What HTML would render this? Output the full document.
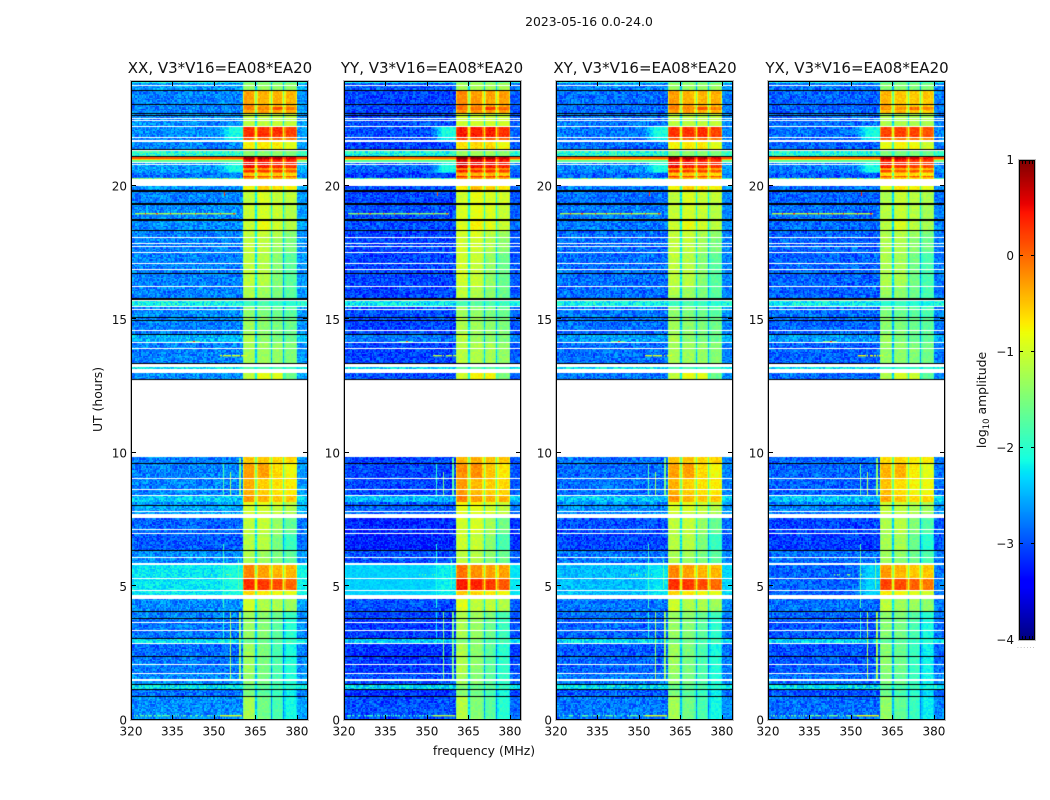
<!DOCTYPE html>
<html>
<head>
<meta charset="utf-8">
<title>2023-05-16 0.0-24.0</title>
<style>
html,body{margin:0;padding:0;background:#fff;width:1050px;height:800px;overflow:hidden}
#figure{position:relative;width:1050px;height:800px}
#figure canvas{position:absolute;display:block}
#overlay{position:absolute;left:0;top:0}
text{font-family:"DejaVu Sans","Liberation Sans",sans-serif;fill:#111}
</style>
</head>
<body>
<div id="figure">
<svg id="overlay" width="1050" height="800">
  <text x="589" y="26" font-size="12.4" text-anchor="middle">2023-05-16 0.0-24.0</text>
  <text x="220" y="73" font-size="15" text-anchor="middle">XX, V3*V16=EA08*EA20</text>
  <text x="432" y="73" font-size="15" text-anchor="middle">YY, V3*V16=EA08*EA20</text>
  <text x="645" y="73" font-size="15" text-anchor="middle">XY, V3*V16=EA08*EA20</text>
  <text x="857" y="73" font-size="15" text-anchor="middle">YX, V3*V16=EA08*EA20</text>
  <text x="484" y="755" font-size="12.4" text-anchor="middle">frequency (MHz)</text>
  <text transform="translate(102,399.5) rotate(-90)" font-size="12.4" text-anchor="middle">UT (hours)</text>
  <text transform="translate(986,400) rotate(-90)" font-size="12.4" text-anchor="middle">log<tspan font-size="8.5" dy="3">10</tspan><tspan dy="-3"> amplitude</tspan></text>
  <text x="1017" y="648" font-size="6" style="fill:#888;letter-spacing:1.2px">......</text>
</svg>
</div>
<script>
// ---- chart data (log10 amplitude) ----
const panelNames = ['xx', 'yy', 'xy', 'yx'];
const panelLefts = [131, 344, 556, 768];
const panelRights = [308, 521, 733, 945];
const backgroundOffsets = [0, -0.3, -0.1, -0.15];
const bandOffsets = [0, 0.1, 0, -0.1];
const lineOffsets = [0, -0.2, 0, 0.1];
const freqTicks = [320, 335, 350, 365, 380];
const utTicks = [0, 5, 10, 15, 20];
const colorTicks = [-4, -3, -2, -1, 0, 1];
const colorTickLabels = ['\u22124', '\u22123', '\u22122', '\u22121', '0', '1'];
const colorMinorTicks = [0.2, 0.4, 0.6, 0.8];
// receiver passbands in MHz
const passbands = [[360.5, 364.9], [365.6, 370.3], [371.0, 375.0], [375.7, 380.0]];
// [UT start, UT end, background, band1, band2, band3, band4, glow next to first band]
const dataRows = [
[0, 0.9, -2.7, -1.25, -1.55, -1.8, -2.1, null],
[0.9, 1.16, -2.85, -1.5, -1.7, -1.9, -2.2, null],
[1.16, 1.33, -2.25, -1.6, -1.7, -1.8, -2.0, null],
[1.33, 1.76, -2.7, -1.4, -1.55, -1.8, -2.05, null],
[1.76, 2.4, -2.8, -1.3, -1.5, -1.8, -2.05, null],
[2.4, 2.88, -2.85, -1.3, -1.5, -1.8, -2.1, null],
[2.88, 3.07, -2.3, -1.6, -1.6, -1.8, -1.9, null],
[3.07, 3.82, -2.8, -1.35, -1.45, -1.7, -2.0, null],
[3.82, 4.07, -2.75, -1.3, -1.4, -1.6, -1.9, null],
[4.07, 4.69, -2.7, -1.0, -1.2, -1.2, -1.3, null],
[4.69, 4.87, -2.25, -0.6, -0.7, -0.8, -0.9, null],
[4.87, 5.31, -2.25, 0.3, 0.25, 0.15, 0.0, null],
[5.31, 5.87, -2.25, -0.15, -0.3, -0.4, -0.4, null],
[5.87, 6.37, -2.7, -1.2, -1.3, -1.5, -1.7, null],
[6.37, 6.99, -2.95, -1.15, -1.15, -1.5, -1.9, null],
[6.99, 7.57, -2.9, -1.1, -1.05, -1.35, -1.65, null],
[7.57, 8.05, -2.6, -1.0, -1.0, -1.1, -1.2, null],
[8.05, 8.16, -2.6, -0.9, -0.9, -1.0, -1.1, null],
[8.16, 8.42, -2.4, -0.25, -0.4, -0.5, -0.5, null],
[8.42, 9.06, -2.75, -0.38, -0.55, -0.65, -0.7, null],
[9.06, 9.64, -2.75, -0.3, -0.3, -0.6, -0.8, null],
[9.64, 9.84, -2.75, -0.5, -0.5, -0.6, -0.6, null],
[12.75, 13.05, -2.7, -1.1, -0.85, -0.9, -1.6, null],
[13.05, 13.38, -2.2, -1.8, -1.8, -1.8, -1.9, null],
[13.38, 14.16, -2.75, -1.25, -1.3, -1.35, -1.45, null],
[14.16, 14.46, -2.5, -1.2, -1.4, -1.5, -1.6, null],
[14.46, 15.08, -2.75, -1.3, -1.4, -1.5, -1.6, null],
[15.08, 15.51, -2.7, -1.4, -1.5, -1.6, -1.7, null],
[15.51, 15.73, -2.15, -1.9, -1.8, -1.9, -2.0, null],
[15.73, 16.25, -2.75, -1.2, -1.3, -1.5, -1.7, null],
[16.25, 17.52, -2.75, -1.1, -1.15, -1.45, -1.7, null],
[17.52, 18.08, -2.75, -1.1, -1.1, -1.3, -1.5, null],
[18.08, 18.35, -2.75, -1.1, -1.05, -1.2, -1.4, null],
[18.35, 18.76, -2.7, -1.05, -0.85, -1.0, -1.15, null],
[18.76, 19.35, -2.7, -1.05, -0.97, -1.05, -1.15, null],
[19.35, 19.85, -2.75, -1.1, -0.95, -1.05, -1.1, null],
[19.85, 20.25, -2.7, -0.8, -0.55, -0.65, -0.8, null],
[20.25, 20.29, -1.9, -0.4, -0.5, -0.5, -0.5, null],
[20.29, 20.32, -2.8, -0.1, -0.2, -0.2, -0.3, null],
[20.32, 20.39, -2.8, 0.25, 0.2, 0.2, 0.1, null],
[20.39, 20.47, -2.8, -0.5, -0.5, -0.5, -0.6, null],
[20.47, 20.54, -2.7, -0.1, -0.15, -0.15, -0.2, -2.4],
[20.54, 20.61, -2.65, 0.3, 0.25, 0.2, 0.1, -2.1],
[20.61, 20.69, -2.6, -0.2, -0.2, -0.2, -0.3, -2.1],
[20.69, 20.9, -2.6, 0.5, 0.4, 0.35, 0.3, -2.1],
[20.9, 20.96, -1.7, 0.5, 0.45, 0.35, 0.3, null],
[20.96, 21.02, -0.6, 0.65, 0.6, 0.5, 0.4, null],
[21.02, 21.13, 0.1, 0.88, 0.85, 0.75, 0.6, null],
[21.13, 21.4, -2.0, -1.4, -1.4, -1.4, -1.5, null],
[21.4, 21.72, -2.75, -0.75, -0.7, -0.7, -0.9, null],
[21.72, 21.85, -2.75, 0.1, 0.0, 0.0, -0.1, -2.2],
[21.85, 22.25, -2.7, 0.3, 0.3, 0.3, 0.2, -2.1],
[22.25, 22.75, -2.7, -1.1, -1.1, -1.1, -1.1, null],
[22.75, 22.85, -2.75, -0.3, -0.3, -0.35, -0.4, null],
[22.85, 22.96, -2.75, -0.15, -0.15, 0.1, -0.1, null],
[22.96, 23.08, -2.75, -0.15, -0.3, -0.4, -0.4, null],
[23.08, 23.61, -2.75, -0.3, -0.4, -0.4, -0.4, null],
[23.61, 23.86, -2.65, -1.35, -1.35, -1.35, -1.35, null],
[23.86, 23.93, -2.1, -1.7, -1.6, -1.7, -1.8, null]
];
// rows whose background differs by polarisation: [UT start, UT end, background per panel, glow per panel]
const rowOverrides = [
[4.69, 5.87, [-2.25, -2.35, -2.45, -2.9], [-2.1, -2.2, -2.25, -2.35]]
];
// speckle size per panel for those rows
const overrideSpeckle = [0.25, 0.12, 0.25, 0.36];
// flagged integrations drawn white, [UT start, UT end]
const whiteSpans = [
[1.46,1.54],[1.72,1.76],[2.07,2.1],[2.85,2.88],[3.33,3.37],[3.64,3.67],[4.52,4.69],[4.83,4.87],
[5.28,5.31],[5.81,5.87],[6.07,6.09],[6.97,6.99],[7.12,7.14],[7.57,7.72],[7.78,7.83],[8.39,8.42],
[8.61,8.64],[9.04,9.06],[13.01,13.13],[13.23,13.36],[13.9,13.92],[14.12,14.16],[14.58,14.61],
[15.36,15.39],[15.46,15.51],[15.68,15.73],[16.22,16.25],[16.85,16.89],[17.08,17.1],[17.49,17.52],
[17.73,17.75],[17.82,17.85],[18.05,18.08],[20,20.25],[20.8,20.83],[20.87,20.9],[21.3,21.35],
[21.66,21.72],[21.81,21.85],[22.21,22.25],[22.43,22.47],[22.51,22.55],[23.75,23.77]
];
// zero-amplitude integrations drawn black, [UT start, UT end]
const blackSpans = [
[0.86,0.9],[1.12,1.16],[1.3,1.33],[2.36,2.4],[3.03,3.07],[3.79,3.82],[4.04,4.07],[6.33,6.37],
[8.01,8.05],[9.6,9.64],[12.75,12.78],[13.36,13.38],[14.43,14.46],[14.95,14.99],[15.04,15.08],
[15.73,15.79],[16.69,16.75],[18.3,18.35],[18.7,18.76],[19.3,19.35],[19.78,19.85],[21.1,21.13],
[21.35,21.4],[22.62,22.66],[22.71,22.75],[23.05,23.08],[23.56,23.61]
];
// narrow-band interference, [MHz, UT start, UT end, level]
const verticalLines = [
[355.8,1.5,4.05,-1.3],[358.9,1.5,4.05,-1.2],[359.4,1.5,4.05,-1.5],[353.4,3.0,4.05,-2.1],
[353.4,8.4,9.6,-1.8],[355.8,8.4,9.3,-1.3],[358.9,8.4,9.8,-1.6],[359.4,8.4,9.8,-1.4],
[353.6,19.6,19.8,0.3],[353.3,4.2,6.6,-1.9],[358.7,4.9,6.0,-1.7]
];
// broadband interference, [UT, MHz start, MHz end, level, fill fraction]
const horizontalLines = [
[19.0,321.5,358,-1.2,1],[0.19,321,352,-1.7,0.6],[0.19,352,360,-0.9,1],[13.67,352,362,-0.9,0.8],
[14.2,340,345,-1.7,1],[14.2,342.4,343,0.3,1],[5.47,344,356,-1.5,0.2],[20.3,320,355,-1.3,0.6],
[19.0,325,325.6,0.3,1],[19.0,329,329.6,0.2,1],[19.0,334,334.6,0.3,1],[19.0,338,338.6,0.3,1],
[19.0,343,343.6,0.1,1],[19.0,347,347.6,0.2,1],[19.0,352,352.6,0.2,1],[19.0,357,357.6,0.2,1]
];
// fixed speckle table: receiver noise about each level
const speckleValues = [
0.42,-0.81,0.13,0.95,-0.36,-0.62,0.71,-0.09,0.28,-0.97,0.55,0.04,-0.48,0.86,-0.23,0.37,-0.74,0.61,-0.15,0.19,
-0.58,0.92,-0.31,0.07,0.66,-0.89,0.24,-0.44,0.78,-0.05,0.33,-0.68,0.49,0.11,-0.93,0.59,-0.27,0.83,-0.52,0.16,
-0.12,0.74,-0.79,0.31,0.02,-0.39,0.98,-0.65,0.21,0.47,-0.84,0.09,0.63,-0.18,-0.56,0.89,-0.33,0.26,-0.71,0.52,
0.06,-0.46,0.81,-0.95,0.35,0.14,-0.25,0.69,-0.6,0.43,-0.08,-0.87,0.57,0.23,-0.41,0.76,-0.2,0.39,-0.76,0.01,
0.91,-0.53,0.17,-0.3,0.64,-0.99,0.45,-0.11,0.29,0.84,-0.66,0.08,-0.43,0.53,-0.17,0.73,-0.83,0.34,-0.02,0.6,-0.37
];

// ---- scales ----
const FREQ_MIN = 320, FREQ_MAX = 384, UT_MAX = 23.93;
const PLOT_TOP = 81, PLOT_BOTTOM = 720;
const COLOR_MIN = -4, COLOR_MAX = 1;
const BAR_LEFT = 1019, BAR_RIGHT = 1035, BAR_TOP = 160, BAR_BOTTOM = 640;
const CELL_MHZ = 0.5, CELL_UT = 0.05;
const GLOW_START = 351.5, GLOW_FULL = 356;
function yScale(ut){ return PLOT_BOTTOM - ut * (PLOT_BOTTOM - PLOT_TOP) / UT_MAX; }
function xScale(p, f){ return panelLefts[p] + (f - FREQ_MIN) * (panelRights[p] - panelLefts[p]) / (FREQ_MAX - FREQ_MIN); }
function barY(v){ return BAR_BOTTOM - (v - COLOR_MIN) * (BAR_BOTTOM - BAR_TOP) / (COLOR_MAX - COLOR_MIN); }
function seg(t, pts){
  for (let i = 1; i < pts.length; i++) {
    if (t <= pts[i][0]) {
      const a = pts[i-1], b = pts[i];
      return a[1] + (b[1]-a[1]) * (t-a[0]) / (b[0]-a[0]);
    }
  }
  return pts[pts.length-1][1];
}
const jetR = [[0,0],[0.35,0],[0.66,1],[0.89,1],[1,0.5]];
const jetG = [[0,0],[0.125,0],[0.375,1],[0.64,1],[0.91,0],[1,0]];
const jetB = [[0,0.5],[0.11,1],[0.34,1],[0.65,0],[1,0]];
function colorOf(v){
  const t = Math.max(0, Math.min(1, (v - COLOR_MIN) / (COLOR_MAX - COLOR_MIN)));
  return 'rgb(' + Math.round(255*seg(t,jetR)) + ',' + Math.round(255*seg(t,jetG)) + ',' + Math.round(255*seg(t,jetB)) + ')';
}
function speckle(c, r, p){
  const n = speckleValues.length;
  return speckleValues[(c*c*3 + r*r*5 + c*r + c*11 + r*7 + p*29) % n];
}
function overrideFor(row){
  for (let i = 0; i < rowOverrides.length; i++) {
    if (row[0] >= rowOverrides[i][0] && row[1] <= rowOverrides[i][1]) return rowOverrides[i];
  }
  return null;
}
function levelAt(row, f, p){
  const ov = overrideFor(row);
  const bg = row[2];
  const glow = ov ? ov[3][p] : row[7];
  let base = bg + backgroundOffsets[p] * (bg < -2.4 ? 1 : 0.3);
  if (ov) base = ov[2][p];
  let amp = bg > -1.8 ? 0.06 : 0.38;
  if (ov) amp = overrideSpeckle[p];
  const bOff = bandOffsets[p];
  for (let b = 0; b < passbands.length; b++) {
    const lo = passbands[b][0], hi = passbands[b][1];
    if (f >= lo && f < hi) {
      const edge = Math.min(f - lo, hi - f);
      const level = row[3+b] + bOff;
      const drop = edge < 0.5 ? (level > -0.6 ? 0.4 : 0.2) : 0;
      return { v: level - drop, amp: 0.14 };
    }
    if (b < passbands.length - 1 && f >= hi && f < passbands[b+1][0]) {
      return { v: Math.max(row[3+b] + bOff - 1.1, base), amp: 0.18 };
    }
  }
  if (f >= 380) return { v: base + 0.1, amp: amp * 0.8 };
  let v = base;
  if (glow !== null && f > GLOW_START) {
    const q = Math.min(1, (f - GLOW_START) / (GLOW_FULL - GLOW_START));
    v = base + (glow - base) * q;
    amp = amp + (0.16 - amp) * q;
  }
  return { v: v, amp: amp };
}

// ---- heatmaps ----
const figure = document.getElementById('figure');
const overlay = document.getElementById('overlay');
const SVG_NS = 'http://www.w3.org/2000/svg';
function svgEl(tag, attrs){
  const el = document.createElementNS(SVG_NS, tag);
  for (const k in attrs) el.setAttribute(k, attrs[k]);
  overlay.appendChild(el);
  return el;
}
function drawPanel(p){
  const L = panelLefts[p], R = panelRights[p];
  const cv = document.createElement('canvas');
  
  
  cv.width = R - L;
  cv.height = PLOT_BOTTOM - PLOT_TOP;
  cv.style.left = L + 'px';
  cv.style.top = PLOT_TOP + 'px';
  figure.insertBefore(cv, overlay);
  const ctx = cv.getContext('2d');
  ctx.fillStyle = '#fff';
  ctx.fillRect(0, 0, cv.width, cv.height);
  const px = function(f){ return xScale(p, f) - L; };
  const py = function(u){ return yScale(u) - PLOT_TOP; };
  dataRows.forEach(function(row){
    let u = row[0];
    while (u < row[1] - 1e-6) {
      const cellRow = Math.floor(u / CELL_UT + 1e-6);
      const next = Math.min(row[1], (cellRow + 1) * CELL_UT);
      const y1 = Math.round(py(u)), y0 = Math.round(py(next));
      if (y1 > y0) {
        for (let c = 0; (FREQ_MIN + c * CELL_MHZ) < FREQ_MAX; c++) {
          const f = FREQ_MIN + c * CELL_MHZ;
          const l = levelAt(row, f + CELL_MHZ / 2, p);
          ctx.fillStyle = colorOf(l.v + l.amp * speckle(c, cellRow, p));
          const x0 = Math.round(px(f)), x1 = Math.round(px(f + CELL_MHZ));
          ctx.fillRect(x0, y0, x1 - x0, y1 - y0);
        }
      }
      u = next;
    }
  });
  verticalLines.forEach(function(l){
    const y0 = py(l[2]), y1 = py(l[1]);
    ctx.fillStyle = colorOf(l[3] + lineOffsets[p]);
    ctx.fillRect(Math.round(px(l[0])), Math.round(y0), 1, Math.round(y1 - y0));
  });
  horizontalLines.forEach(function(l){
    const x0 = Math.round(px(l[1])), x1 = Math.max(Math.round(px(l[2])), Math.round(px(l[1])) + 1);
    ctx.fillStyle = colorOf(l[3] + lineOffsets[p]);
    for (let x = x0; x < x1; x += 1) {
      if ((speckle(x, 3, p) + 1) / 2 <= l[4]) ctx.fillRect(x, Math.round(py(l[0])), 1, 1.4);
    }
  });
  const spanRect = function(s, color){
    const y0 = Math.round(py(s[1])), y1 = Math.round(py(s[0]));
    ctx.fillStyle = color;
    ctx.fillRect(0, y0, cv.width, Math.max(1, y1 - y0));
  };
  whiteSpans.forEach(function(s){ spanRect(s, '#fff'); });
  blackSpans.forEach(function(s){ spanRect(s, '#000'); });
}
panelNames.forEach(function(_, p){ drawPanel(p); });

// ---- axes ----
function drawFrame(x0, y0, x1, y1, name){
  const halo = svgEl('rect', {x: x0 - 0.5, y: y0 - 0.5, width: x1 - x0 + 1, height: y1 - y0 + 1, fill: 'none', stroke: '#bdbdbd', 'stroke-width': 1});
  
  
  const frame = svgEl('rect', {x: x0 + 0.5, y: y0 + 0.5, width: x1 - x0 - 1, height: y1 - y0 - 1, fill: 'none', stroke: '#000', 'stroke-width': 1});
  
  
}
function tickLine(x1, y1, x2, y2, name){
  const t = svgEl('line', {x1: x1, y1: y1, x2: x2, y2: y2, stroke: '#000', 'stroke-width': 1});
  
  
}
function label(x, y, s, anchor, name){
  const t = svgEl('text', {x: x, y: y, 'font-size': 12, 'text-anchor': anchor});
  t.textContent = s;
  
  
}
panelNames.forEach(function(n, p){
  const L = panelLefts[p], R = panelRights[p];
  drawFrame(L, PLOT_TOP, R, PLOT_BOTTOM, 'panel-' + n);
  freqTicks.forEach(function(f){
    const x = Math.round(xScale(p, f)) + 0.5;
    tickLine(x, PLOT_BOTTOM, x, PLOT_BOTTOM - 5, n + '-x-tick-' + f);
    tickLine(x, PLOT_TOP, x, PLOT_TOP + 5, n + '-x-tick-top-' + f);
    label(xScale(p, f), 735.5, String(f), 'middle', n + '-x-tick-label-' + f);
  });
  utTicks.forEach(function(u){
    const y = Math.round(yScale(u)) - 0.5;
    tickLine(L, y, L + 5, y, n + '-y-tick-' + u);
    tickLine(R, y, R - 5, y, n + '-y-tick-right-' + u);
    label(L - 4, yScale(u) + 4.5, String(u), 'end', n + '-y-tick-label-' + u);
  });
});

// ---- colorbar ----
(function(){
  const cv = document.createElement('canvas');
  
  
  cv.width = BAR_RIGHT - BAR_LEFT;
  cv.height = BAR_BOTTOM - BAR_TOP;
  cv.style.left = BAR_LEFT + 'px';
  cv.style.top = BAR_TOP + 'px';
  figure.insertBefore(cv, overlay);
  const ctx = cv.getContext('2d');
  for (let i = 0; i < cv.height; i++) {
    const v = COLOR_MAX - (i + 0.5) * (COLOR_MAX - COLOR_MIN) / cv.height;
    ctx.fillStyle = colorOf(v);
    ctx.fillRect(0, i, cv.width, 1);
  }
  drawFrame(BAR_LEFT, BAR_TOP, BAR_RIGHT, BAR_BOTTOM, 'colorbar');
  colorTicks.forEach(function(v, i){
    const y = Math.round(barY(v)) - (i === 0 ? 0.5 : (i === colorTicks.length - 1 ? -0.5 : 0.5));
    tickLine(BAR_LEFT, y, BAR_LEFT + 4, y, 'colorbar-tick-left-' + i);
    tickLine(BAR_RIGHT, y, BAR_RIGHT - 4, y, 'colorbar-tick-right-' + i);
    label(BAR_LEFT - 5, barY(v) + 4, colorTickLabels[i], 'end', 'colorbar-tick-label-' + i);
  });
  colorMinorTicks.forEach(function(q, i){
    const x = Math.round(BAR_LEFT + q * (BAR_RIGHT - BAR_LEFT)) + 0.5;
    tickLine(x, BAR_TOP, x, BAR_TOP + 4, 'colorbar-minor-top-' + i);
    tickLine(x, BAR_BOTTOM, x, BAR_BOTTOM - 4, 'colorbar-minor-bottom-' + i);
  });
})();
</script>
</body>
</html>
